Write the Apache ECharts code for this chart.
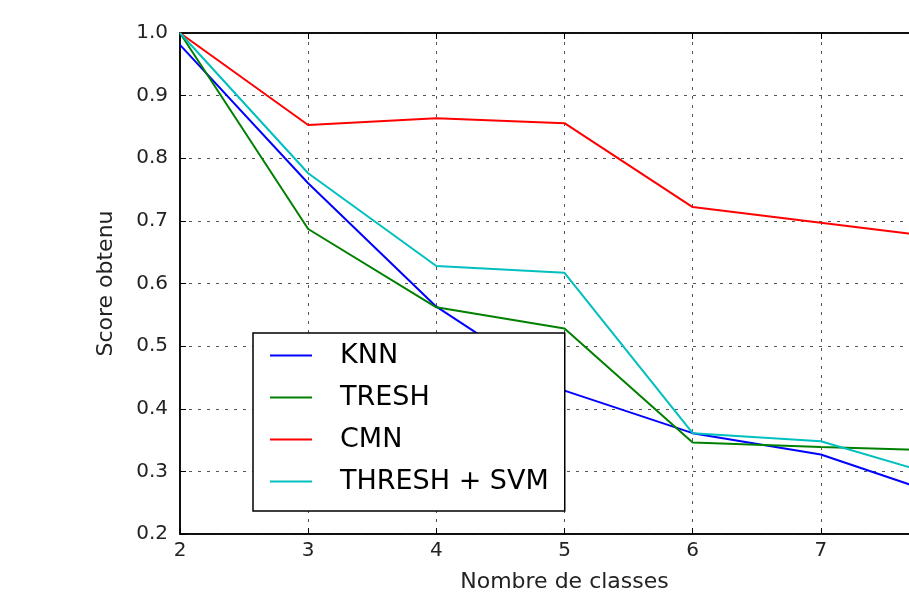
<!DOCTYPE html>
<html>
<head>
<meta charset="utf-8">
<script src="https://cdn.jsdelivr.net/npm/echarts@6/dist/echarts.min.js"></script>
<style>
  html, body { margin: 0; padding: 0; background: #fff; overflow: hidden; }
  #chart { width: 1000px; height: 600px; }
</style>
</head>
<body>
<div id="chart"></div>
<script>
// Number of classes tested
const classes = [2, 3, 4, 5, 6, 7, 8];
// Score obtained by each method
const knn = [0.981, 0.760, 0.563, 0.429, 0.361, 0.327, 0.258];
const tresh = [1.0, 0.687, 0.562, 0.528, 0.346, 0.339, 0.333];
const cmn = [1.0, 0.853, 0.864, 0.856, 0.722, 0.697, 0.672];
const threshSvm = [1.0, 0.776, 0.628, 0.617, 0.361, 0.348, 0.288];
const yTicks = [0.2, 0.3, 0.4, 0.5, 0.6, 0.7, 0.8, 0.9, 1.0];

const FONT = 'DejaVu Sans';
const pairs = (ys) => classes.map((x, i) => [x, ys[i]]);

const seriesDefs = [
  { name: 'KNN', data: knn, color: '#0000ff' },
  { name: 'TRESH', data: tresh, color: '#008000' },
  { name: 'CMN', data: cmn, color: '#ff0000' },
  { name: 'THRESH + SVM', data: threshSvm, color: '#00bfbf' }
];

const dotted = { color: '#555', width: 1, type: [3, 6] };

const chart = echarts.init(document.getElementById('chart'), null, { renderer: 'canvas' });
chart.setOption({
  animation: false,
  backgroundColor: '#fff',
  textStyle: { fontFamily: FONT },
  grid: {
    left: 180, top: 33, right: 51, bottom: 66,
    show: true, borderColor: '#000', borderWidth: 1.5, backgroundColor: 'transparent'
  },
  legend: {
    orient: 'vertical',
    left: 253, top: 333,
    padding: [9, 16, 16, 17],
    itemGap: 15,
    itemWidth: 42, itemHeight: 2,
    icon: 'rect',
    backgroundColor: '#fff',
    borderColor: '#000', borderWidth: 1.5,
    borderRadius: 0,
    textStyle: { fontFamily: FONT, fontSize: 27, color: '#000', lineHeight: 27, padding: [0, 0, 0, 23] },
    data: seriesDefs.map(s => ({ name: s.name, itemStyle: { color: s.color } }))
  },
  xAxis: [{
    type: 'value', min: 2, max: 8, interval: 1,
    name: 'Nombre de classes', nameLocation: 'middle', nameGap: 37,
    nameTextStyle: { fontFamily: FONT, fontSize: 22, color: '#222' },
    axisLine: { lineStyle: { color: '#000', width: 1.5 } },
    axisTick: { inside: true, length: 6, lineStyle: { color: '#000' } },
    axisLabel: { fontFamily: FONT, fontSize: 20, color: '#222', margin: 7 },
    splitLine: { show: true, lineStyle: dotted }
  }, {
    type: 'value', min: 2, max: 8, interval: 1, position: 'top',
    axisLine: { lineStyle: { color: '#000', width: 1.5 } },
    axisTick: { inside: true, length: 6, lineStyle: { color: '#000' } },
    axisLabel: { show: false }, splitLine: { show: false }
  }],
  yAxis: [{
    type: 'value', min: 0.2, max: 1.0, interval: 0.1,
    name: 'Score obtenu', nameLocation: 'middle', nameGap: 63, nameRotate: 90,
    nameTextStyle: { fontFamily: FONT, fontSize: 22, color: '#222' },
    axisLine: { lineStyle: { color: '#000', width: 1.5 } },
    axisTick: { inside: true, length: 6, lineStyle: { color: '#000' } },
    axisLabel: {
      fontFamily: FONT, fontSize: 20, color: '#222', margin: 12,
      customValues: yTicks,
      formatter: v => v.toFixed(1)
    },
    splitLine: { show: true, lineStyle: dotted }
  }, {
    type: 'value', min: 0.2, max: 1.0, interval: 0.1, position: 'right',
    axisLine: { lineStyle: { color: '#000', width: 1.5 } },
    axisTick: { inside: true, length: 6, lineStyle: { color: '#000' } },
    axisLabel: { show: false }, splitLine: { show: false }
  }],
  series: seriesDefs.map(s => ({
    name: s.name,
    type: 'line',
    data: pairs(s.data),
    showSymbol: false,
    symbol: 'none',
    lineStyle: { color: s.color, width: 2 },
    itemStyle: { color: s.color },
    z: 2
  }))
});
</script>
</body>
</html>
